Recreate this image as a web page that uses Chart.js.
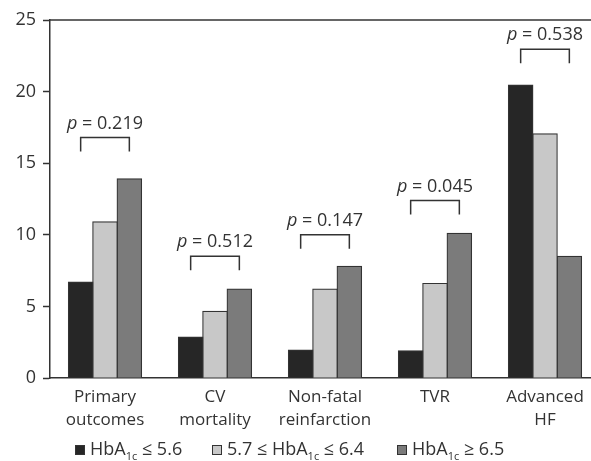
<!DOCTYPE html>
<html>
<head>
<meta charset="utf-8">
<script src="https://cdn.jsdelivr.net/npm/chart.js@4"></script>
<style>
  html, body { margin: 0; padding: 0; background: #fff; overflow: hidden; }
  #wrap { width: 600px; height: 461px; }
</style>
</head>
<body>
<div id="wrap"><canvas id="myChart" width="600" height="461"></canvas></div>
<script>
const categories = [['Primary', 'outcomes'], ['CV', 'mortality'], ['Non-fatal', 'reinfarction'], ['TVR'], ['Advanced', 'HF']];
const lowValues = [6.7, 2.85, 1.95, 1.9, 20.45];
const midValues = [10.9, 4.65, 6.2, 6.6, 17.05];
const highValues = [13.9, 6.2, 7.8, 10.1, 8.5];
const pValues = ['0.219', '0.512', '0.147', '0.045', '0.538'];
const bracketLevels = [16.8, 8.5, 10.0, 12.4, 22.95];
const yTicks = [0, 5, 10, 15, 20, 25];

const FONT = '"Open Sans", "Noto Sans", sans-serif';
const INK = '#333';

// brackets with p values above each group
const pValuePlugin = {
  id: 'pvalues',
  afterDatasetsDraw(chart) {
    const ctx = chart.ctx;
    const y = chart.scales.y;
    const first = chart.getDatasetMeta(0).data;
    const last = chart.getDatasetMeta(2).data;
    ctx.save();
    ctx.strokeStyle = INK;
    ctx.lineWidth = 1.5;
    ctx.fillStyle = INK;
    pValues.forEach((p, i) => {
      const x1 = first[i].x;
      const x2 = last[i].x;
      const top = y.getPixelForValue(bracketLevels[i]);
      const bottom = top + 14;
      ctx.beginPath();
      ctx.moveTo(x1, bottom);
      ctx.lineTo(x1, top);
      ctx.lineTo(x2, top);
      ctx.lineTo(x2, bottom);
      ctx.stroke();

      ctx.textBaseline = 'middle';
      ctx.font = 'italic 18px ' + FONT;
      const wp = ctx.measureText('p').width;
      ctx.font = '18px ' + FONT;
      const rest = ' = ' + p;
      const wr = ctx.measureText(rest).width;
      const start = (x1 + x2) / 2 - (wp + wr) / 2;
      const ty = top - 14;
      ctx.font = 'italic 18px ' + FONT;
      ctx.fillText('p', start, ty);
      ctx.font = '18px ' + FONT;
      ctx.fillText(rest, start + wp, ty);
    });
    ctx.restore();
  }
};

// top border line and legend with subscripts
const framePlugin = {
  id: 'frame',
  afterDraw(chart) {
    const ctx = chart.ctx;
    const area = chart.chartArea;
    ctx.save();
    ctx.strokeStyle = INK;
    ctx.lineWidth = 1.5;
    ctx.beginPath();
    ctx.moveTo(area.left, area.top);
    ctx.lineTo(chart.width, area.top);
    ctx.stroke();

    const items = [
      { x: 75, color: '#262626', parts: [['HbA', 0], ['1c', 1], [' \u2264 5.6', 0]] },
      { x: 212, color: '#c8c8c8', parts: [['5.7 \u2264 HbA', 0], ['1c', 1], [' \u2264 6.4', 0]] },
      { x: 397, color: '#7b7b7b', parts: [['HbA', 0], ['1c', 1], [' \u2265 6.5', 0]] }
    ];
    const ly = 450;
    items.forEach(it => {
      ctx.fillStyle = it.color;
      ctx.fillRect(it.x, ly - 5, 10, 10);
      ctx.lineWidth = 1;
      ctx.strokeRect(it.x + 0.5, ly - 4.5, 9, 9);
      let x = it.x + 15;
      ctx.fillStyle = INK;
      ctx.textBaseline = 'middle';
      it.parts.forEach(([t, sub]) => {
        ctx.font = (sub ? '11px ' : '18px ') + FONT;
        ctx.fillText(t, x, sub ? ly + 7 : ly);
        x += ctx.measureText(t).width;
      });
    });
    ctx.restore();
  }
};

const ctx = document.getElementById('myChart').getContext('2d');
new Chart(ctx, {
  type: 'bar',
  data: {
    labels: categories,
    datasets: [
      { label: 'HbA1c \u2264 5.6', data: lowValues, backgroundColor: '#262626' },
      { label: '5.7 \u2264 HbA1c \u2264 6.4', data: midValues, backgroundColor: '#c8c8c8' },
      { label: 'HbA1c \u2265 6.5', data: highValues, backgroundColor: '#7b7b7b' }
    ]
  },
  options: {
    responsive: false,
    animation: false,
    layout: { padding: { top: 20, right: 0, left: 0, bottom: 0 } },
    datasets: {
      bar: {
        borderColor: INK,
        borderWidth: 1.2,
        inflateAmount: 0.6,
        categoryPercentage: 0.664,
        barPercentage: 1.0
      }
    },
    plugins: {
      legend: { display: false },
      tooltip: { enabled: false }
    },
    scales: {
      x: {
        grid: { display: false, drawTicks: false },
        border: { display: true, color: INK, width: 1.5 },
        ticks: { color: INK, font: { family: FONT, size: 17, lineHeight: 1.35 }, padding: 8, maxRotation: 0 },
        afterFit(scale) { scale.height = 83; }
      },
      y: {
        min: 0,
        max: 25,
        afterBuildTicks(scale) { scale.ticks = yTicks.map(v => ({ value: v })); },
        grid: { drawOnChartArea: false, drawTicks: true, tickLength: 7, tickColor: INK, tickWidth: 1.5 },
        border: { display: true, color: INK, width: 1.5 },
        ticks: { color: INK, font: { family: FONT, size: 18 }, padding: 7 },
        afterFit(scale) { scale.width = 50; }
      }
    }
  },
  plugins: [pValuePlugin, framePlugin]
});
</script>
</body>
</html>
